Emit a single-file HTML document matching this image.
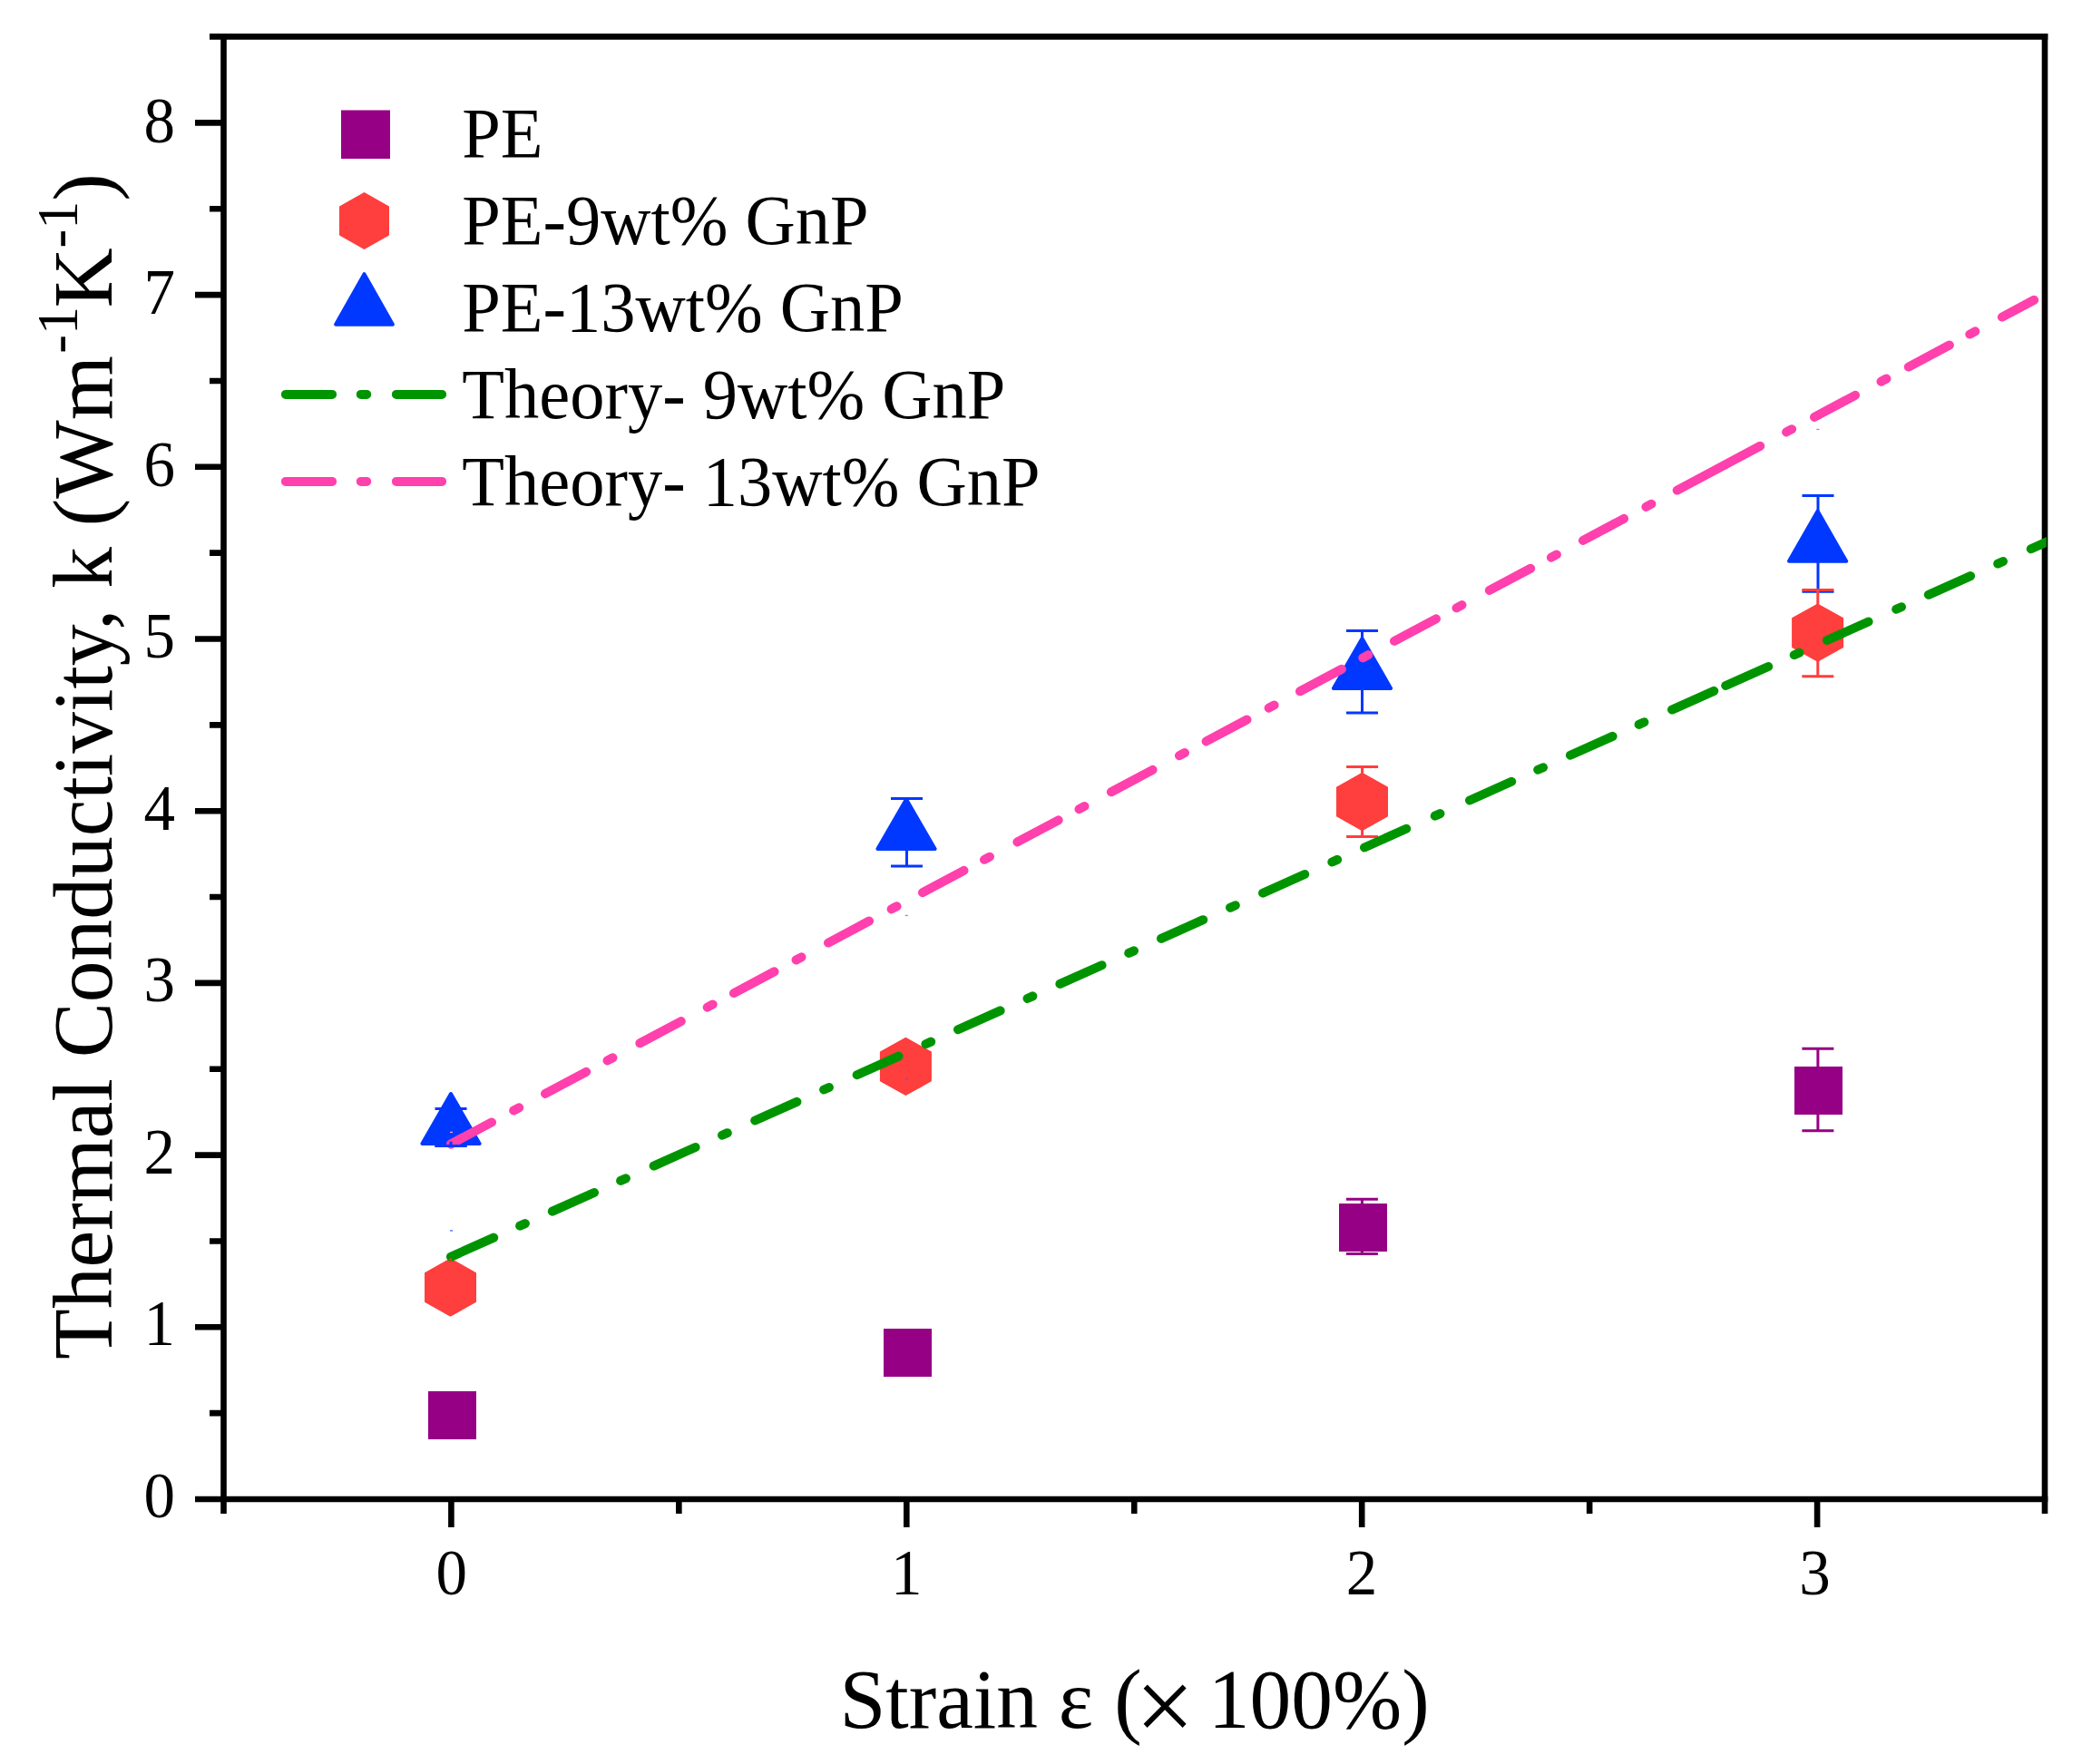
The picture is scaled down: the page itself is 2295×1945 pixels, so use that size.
<!DOCTYPE html>
<html lang="en"><head><meta charset="utf-8"><title>Thermal Conductivity vs Strain</title>
<style>html,body{margin:0;padding:0;background:#fff;}body{width:2295px;height:1945px;overflow:hidden;}svg{display:block;}text{font-family:'Liberation Serif', serif;fill:#000;}</style>
</head><body>
<svg width="2295" height="1945" viewBox="0 0 2295 1945" role="img" aria-label="Thermal conductivity versus strain">
<rect x="0" y="0" width="2295" height="1945" fill="#fff"/>
<g id="axes" stroke="#000" stroke-width="6.6" fill="none" stroke-linecap="butt">
<path d="M231 40.4 H2257.3"/>
<path d="M215 1653 H2257.3"/>
<path d="M246.5 37.1 V1669"/>
<path d="M2254 37.1 V1669"/>
<path d="M215 1463.3 H246.5 M215 1273.6 H246.5 M215 1083.9 H246.5 M215 894.2 H246.5 M215 704.5 H246.5 M215 514.8 H246.5 M215 325.1 H246.5 M215 135.4 H246.5 M231 1558.15 H246.5 M231 1368.45 H246.5 M231 1178.75 H246.5 M231 989.05 H246.5 M231 799.35 H246.5 M231 609.65 H246.5 M231 419.95 H246.5 M231 230.25 H246.5 M497.4 1653 V1684 M999.3 1653 V1684 M1501.2 1653 V1684 M2003.1 1653 V1684 M748.35 1653 V1669 M1250.25 1653 V1669 M1752.15 1653 V1669"/>
</g>
<g id="series-pe">
<path d="M1501.4 1322.3 V1382.5 M1483.9 1322.3 H1518.9 M1483.9 1382.5 H1518.9" stroke="#960085" stroke-width="3" fill="none"/>
<path d="M2003.9 1156.2 V1246.7 M1986.4 1156.2 H2021.4 M1986.4 1246.7 H2021.4" stroke="#960085" stroke-width="3" fill="none"/>
<rect x="472" y="1534" width="53" height="53" fill="#960085"/>
<rect x="974" y="1465" width="53" height="53" fill="#960085"/>
<rect x="1476" y="1327" width="53" height="53" fill="#960085"/>
<rect x="1978" y="1176" width="53" height="53" fill="#960085"/>
</g>
<g id="series-pe13">
<path d="M497 1222.4 V1263.4 M479.5 1222.4 H514.5 M479.5 1263.4 H514.5" stroke="#0038ff" stroke-width="3" fill="none"/>
<path d="M999.5 880.6 V955 M982 880.6 H1017 M982 955 H1017" stroke="#0038ff" stroke-width="3" fill="none"/>
<path d="M1501.5 695.5 V786 M1484 695.5 H1519 M1484 786 H1519" stroke="#0038ff" stroke-width="3" fill="none"/>
<path d="M2004 546.4 V652.3 M1986.5 546.4 H2021.5 M1986.5 652.3 H2021.5" stroke="#0038ff" stroke-width="3" fill="none"/>
<polygon points="497,1206 528.6,1261 465.4,1261" fill="#0038ff" stroke="#0038ff" stroke-width="4" stroke-linejoin="round"/>
<polygon points="999,881.2 1030.6,936 967.4,936" fill="#0038ff" stroke="#0038ff" stroke-width="4" stroke-linejoin="round"/>
<polygon points="1501.5,703.9 1533.1,758.9 1469.9,758.9" fill="#0038ff" stroke="#0038ff" stroke-width="4" stroke-linejoin="round"/>
<polygon points="2003.6,563.5 2035.2,618.8 1972,618.8" fill="#0038ff" stroke="#0038ff" stroke-width="4" stroke-linejoin="round"/>
</g>
<g id="series-pe9">
<path d="M1501.6 845.5 V922.5 M1484.1 845.5 H1519.1 M1484.1 922.5 H1519.1" stroke="#ff3e3e" stroke-width="3" fill="none"/>
<path d="M2003.8 650.6 V745.7 M1986.3 650.6 H2021.3 M1986.3 745.7 H2021.3" stroke="#ff3e3e" stroke-width="3" fill="none"/>
<polygon points="496.5,1388.4 524,1403.8 524,1435.2 496.5,1450.6 469,1435.2 469,1403.8" fill="#ff3e3e" stroke="#ff3e3e" stroke-width="2" stroke-linejoin="round"/>
<polygon points="998.4,1144.8 1025.9,1160.2 1025.9,1191.6 998.4,1207 970.9,1191.6 970.9,1160.2" fill="#ff3e3e" stroke="#ff3e3e" stroke-width="2" stroke-linejoin="round"/>
<polygon points="1501.5,852.9 1529,868.3 1529,899.7 1501.5,915.1 1474,899.7 1474,868.3" fill="#ff3e3e" stroke="#ff3e3e" stroke-width="2" stroke-linejoin="round"/>
<polygon points="2003.6,666.5 2031.1,681.9 2031.1,713.3 2003.6,728.7 1976.1,713.3 1976.1,681.9" fill="#ff3e3e" stroke="#ff3e3e" stroke-width="2" stroke-linejoin="round"/>
</g>
<clipPath id="plotclip"><rect x="246.5" y="40.4" width="2009.3" height="1612.6"/></clipPath>
<g id="theory" fill="none" stroke-width="10" stroke-linecap="round" clip-path="url(#plotclip)">
<path id="theory9" stroke="#009500" d="M496.9 1385.82 L544.2 1364.63 M573.1 1351.68 L578.9 1349.08 M608.8 1335.68 L655 1314.97 M684.1 1301.93 L689.9 1299.33 M720.6 1285.57 L766.6 1264.96 M796 1251.78 L801.8 1249.18 M832.2 1235.56 L878.4 1214.85 M908.1 1201.54 L913.9 1198.95 M944.6 1185.19 L990.6 1164.57 M1020.4 1151.22 L1026.2 1148.62 M1056 1135.26 L1102.6 1114.38 M1132.5 1100.98 L1138.3 1098.38 M1168.4 1084.89 L1214.6 1064.19 M1244.2 1050.92 L1250 1048.32 M1280 1034.88 L1326.2 1014.17 M1356 1000.82 L1361.8 998.22 M1392 984.69 L1438.2 963.98 M1468.3 950.49 L1474.1 947.89 M1504 934.49 L1550.2 913.79 M1581.7 899.67 L1587.5 897.07 M1620 882.51 L1666.2 861.8 M1695.2 848.81 L1701 846.21 M1730.9 832.81 L1777.6 811.88 M1806.6 798.88 L1812.4 796.28 M1843 782.57 L1889.3 761.82 M1902.2 756.04 L1949.2 734.98 M1977.7 722.2 L1983.5 719.6 M2013.8 706.03 L2059.6 685.5 M2090.2 671.79 L2096 669.19 M2125.8 655.83 L2172.1 635.08 M2202.2 621.59 L2208 618.99 M2238.7 605.24 L2270 591.21"/>
<path id="theory13" stroke="#ff40ad" d="M496.9 1261.47 L542 1237.42 M566.2 1224.51 L572.2 1221.31 M601 1205.95 L646.2 1181.85 M669.5 1169.43 L675.5 1166.23 M705.4 1150.28 L750.8 1126.07 M779.7 1110.66 L785.7 1107.46 M808.9 1095.09 L853.6 1071.25 M877.5 1058.51 L883.5 1055.31 M913 1039.58 L958.1 1015.53 M982.6 1002.46 L988.6 999.26 M1017 984.12 L1062.5 959.85 M1085 947.86 L1091 944.66 M1121.4 928.45 L1166.7 904.29 M1189.5 892.13 L1195.5 888.93 M1224.9 873.25 L1270.6 848.88 M1300 833.21 L1306 830.01 M1329.6 817.42 L1374.5 793.48 M1398.6 780.63 L1404.6 777.43 M1433 762.28 L1479 737.75 M1502.3 725.33 L1508.3 722.13 M1537 706.82 L1583 682.29 M1605.5 670.29 L1611.5 667.1 M1641.8 650.94 L1687.2 626.73 M1709.9 614.62 L1715.9 611.42 M1745 595.9 L1790.1 571.85 M1814.4 558.9 L1820.4 555.7 M1848.7 540.61 L1940.3 491.76 M1969.1 476.4 L1975.1 473.2 M2000 459.92 L2045.1 435.87 M2073.5 420.73 L2079.5 417.53 M2103.8 404.57 L2148.9 380.52 M2171.3 368.58 L2177.3 365.38 M2206.9 349.59 L2242.2 330.77"/>
</g>
<path d="M497 1258.8 V1263.4 M479.5 1263.4 H514.5" stroke="#0038ff" stroke-width="3" fill="none"/>
<path d="M496.6 1387.6 V1390" stroke="#ff3e3e" stroke-width="2" fill="none"/>
<g id="specks">
<rect x="496" y="1247.8" width="3" height="1.3" fill="#ff9ad4"/>
<rect x="495.3" y="1265" width="4" height="1.3" fill="#ff40ad"/>
<rect x="496" y="1356.3" width="3" height="1.3" fill="#3a6bff"/>
<rect x="997.8" y="1008.8" width="3" height="1.3" fill="#c070d8"/>
<rect x="997.8" y="1189.4" width="3" height="1.3" fill="#3a6bff"/>
<rect x="2002.4" y="472.8" width="3" height="1.3" fill="#c070d8"/>
</g>
<g id="ticklabels" font-size="69">
<text transform="translate(193 1672.9) scale(1 1.03)" text-anchor="end">0</text>
<text transform="translate(193 1483.35) scale(1 1.03)" text-anchor="end">1</text>
<text transform="translate(193 1293.8) scale(1 1.03)" text-anchor="end">2</text>
<text transform="translate(193 1104.25) scale(1 1.03)" text-anchor="end">3</text>
<text transform="translate(193 914.7) scale(1 1.03)" text-anchor="end">4</text>
<text transform="translate(193 725.15) scale(1 1.03)" text-anchor="end">5</text>
<text transform="translate(193 535.6) scale(1 1.03)" text-anchor="end">6</text>
<text transform="translate(193 346.05) scale(1 1.03)" text-anchor="end">7</text>
<text transform="translate(193 156.5) scale(1 1.03)" text-anchor="end">8</text>
<text transform="translate(497.7 1758.3) scale(1 1.03)" text-anchor="middle">0</text>
<text transform="translate(999.3 1758.3) scale(1 1.03)" text-anchor="middle">1</text>
<text transform="translate(1500.9 1758.3) scale(1 1.03)" text-anchor="middle">2</text>
<text transform="translate(2000.6 1758.3) scale(1 1.03)" text-anchor="middle">3</text>
</g>
<text id="xtitle" transform="translate(0 1905.2) scale(1 1.01)" font-size="91.5" xml:space="preserve"><tspan x="925.5">Strain ε (</tspan><tspan x="1251.6" dy="14.3" font-size="115.5">×</tspan><tspan x="1309" dy="-14.3"> 100%)</tspan></text>
<text id="ytitle" transform="translate(123 1499) rotate(-90) scale(1 1.01)" font-size="91.5" xml:space="preserve">Thermal Conductivity, k (Wm<tspan font-size="62" dy="-37.5" dx="2.5">-1</tspan><tspan dy="37.5" dx="-1.5">K</tspan><tspan font-size="62" dy="-37.5" dx="0">-1</tspan><tspan dy="37.5" dx="0">)</tspan></text>
<g id="legend" font-size="76.5">
<rect x="376" y="121.5" width="54" height="53.5" fill="#960085"/>
<polygon points="401.5,213 428,228.2 428,258.8 401.5,274 375,258.8 375,228.2" fill="#ff3e3e" stroke="#ff3e3e" stroke-width="2" stroke-linejoin="round"/>
<polygon points="401.5,302.2 432.9,357.8 370.1,357.8" fill="#0038ff" stroke="#0038ff" stroke-width="4" stroke-linejoin="round"/>
<path d="M314.9 434.9 H366.1 M397.8 434.9 H404.2 M436.9 434.9 H487.1" stroke="#009500" stroke-width="10" stroke-linecap="round" fill="none"/>
<path d="M314.9 530.9 H366.1 M397.8 530.9 H404.2 M436.9 530.9 H487.1" stroke="#ff40ad" stroke-width="10" stroke-linecap="round" fill="none"/>
<text transform="translate(509.3 173.4) scale(1 1.02)" xml:space="preserve">PE</text>
<text transform="translate(509.3 268.5) scale(1 1.02)" xml:space="preserve">PE-9wt% GnP</text>
<text transform="translate(509.3 365) scale(1 1.02)" xml:space="preserve">PE-13wt% GnP</text>
<text transform="translate(509.3 460.9) scale(1 1.02)" xml:space="preserve">Theory- 9wt% GnP</text>
<text transform="translate(509.3 556.9) scale(1 1.02)" xml:space="preserve">Theory- 13wt% GnP</text>
</g>
</svg>
</body></html>
